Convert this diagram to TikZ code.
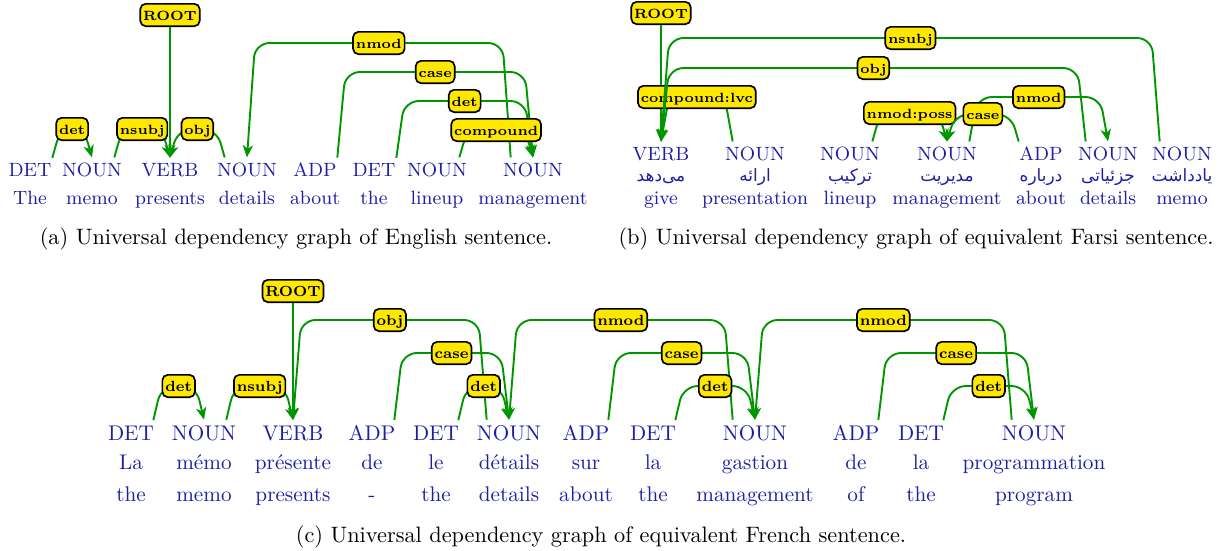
\documentclass[tikz,border=0pt]{standalone}
\usepackage{fontspec}
\newfontfamily\farsifont[Script=Arabic]{DejaVu Sans}
\TeXXeTstate=1
\usetikzlibrary{calc,arrows.meta}
\definecolor{depgreen}{RGB}{0,150,0}
\definecolor{depblue}{RGB}{30,30,165}
\definecolor{labelyellow}{RGB}{255,232,0}
\tikzset{postag/.style={text=depblue, inner sep=0pt, outer sep=2.5pt, font=\fontsize{8.6}{10}\selectfont}}
\tikzset{word/.style={text=depblue, inner sep=0pt, anchor=base, font=\fontsize{8.6}{10}\selectfont}}
\tikzset{deplabel/.style={draw=black, fill=labelyellow, line width=0.75pt, rounded corners=2.4pt,
  inner xsep=1.3pt, inner ysep=0.5pt, text height=0.7em, text depth=0.2em, font=\fontsize{6}{6}\selectfont\bfseries}}
\tikzset{depline/.style={draw=depgreen, line width=0.85pt, rounded corners=6.5pt, -{Stealth[length=5.5pt,width=4.6pt,inset=1.6pt]}}}
\tikzset{caption/.style={inner sep=0pt, font=\fontsize{10}{12}\selectfont}}
% dependency arc: name, from, to, level, label
\newcommand{\depedge}[5]{%
  \draw[depline] let \p0=(#2.north), \p2=(#3.north), \n1={ifthenelse(\x2>\x0,1,-1)},
      \p1=($(\p0)+(\n1*10,0)$), \p3=(0,#4) in
    (\p1) -- (\x1+\n1*3.6pt,\y3) -- (\x2-\n1*3.6pt,\y3) -- (\p2)
    node[deplabel, at={({(\x1+\x2)/2},\y3)}] (#1) {#5};}

\begin{document}
\begin{tikzpicture}[x=0.448pt, y=-0.448pt]
  \useasboundingbox (0,0) rectangle (1218,550);

  % (a) English sentence
  \foreach \x/\t/\w [count=\i] in {30/DET/The, 92/NOUN/memo, 170/VERB/presents, 247/NOUN/details,
      315/ADP/about, 374/DET/the, 437/NOUN/lineup, 533/NOUN/management} {
    \node[postag] (a\i) at (\x,170) {\t};
    \node[word] (wa\i) at (\x,204) {\w};
  }
  \node[deplabel] (rootA) at (170,15) {ROOT};
  \draw[depline] (rootA) -- (a3.north);
  \depedge{detA}{a1}{a2}{129}{det}
  \depedge{nsubjA}{a2}{a3}{129}{nsubj}
  \depedge{objA}{a4}{a3}{129}{obj}
  \depedge{nmodA}{a8}{a4}{43}{nmod}
  \depedge{caseA}{a5}{a8}{72}{case}
  \depedge{detB}{a6}{a8}{101}{det}
  \depedge{compoundA}{a7}{a8}{130}{compound}
  \node[caption] (capA) at (296,239) {(a) Universal dependency graph of English sentence.};

  % (b) Farsi sentence
  \foreach \x/\t/\f/\w [count=\i] in {661/VERB/می‌دهد/give, 755/NOUN/ارائه/presentation,
      850/NOUN/ترکیب/lineup, 947/NOUN/مدیریت/management, 1041/ADP/درباره/about,
      1108/NOUN/جزئیاتی/details, 1182/NOUN/یادداشت/memo} {
    \node[postag] (b\i) at (\x,154) {\t};
    \node[word, font=\fontsize{7.6}{10}\farsifont] (fb\i) at (\x,181) {\beginR\f\endR};
    \node[word] (gb\i) at (\x,204) {\w};
  }
  \node[deplabel] (rootB) at (661,13) {ROOT};
  \draw[depline] (rootB) -- (b1.north);
  \depedge{lvcB}{b2}{b1}{97}{compound:lvc}
  \depedge{objB}{b6}{b1}{68}{obj}
  \depedge{nsubjB}{b7}{b1}{38}{nsubj}
  \depedge{possB}{b3}{b4}{113}{nmod:poss}
  \depedge{nmodB}{b4}{b6}{97}{nmod}
  \depedge{caseB}{b5}{b4}{114}{case}
  \node[caption] (capB) at (916,239) {(b) Universal dependency graph of equivalent Farsi sentence.};

  % (c) French sentence
  \begin{scope}[postag/.append style={font=\fontsize{9.5}{11}\selectfont},
      word/.append style={font=\fontsize{9.5}{11}\selectfont},
      deplabel/.append style={font=\fontsize{6.6}{7}\selectfont\bfseries}]
    \foreach \x/\t/\f/\w [count=\i] in {131/DET/La/the, 204/NOUN/mémo/memo, 293/VERB/présente/presents,
        372/ADP/de/-, 436/DET/le/the, 509/NOUN/détails/details, 586/ADP/sur/about, 653/DET/la/the,
        755/NOUN/gastion/management, 856/ADP/de/of, 921/DET/la/the, 1034/NOUN/programmation/program} {
      \node[postag] (c\i) at (\x,433) {\t};
      \node[word] (fc\i) at (\x,469) {\f};
      \node[word] (gc\i) at (\x,501) {\w};
    }
    \node[deplabel] (rootC) at (293,291) {ROOT};
    \draw[depline] (rootC) -- (c3.north);
    \depedge{detC}{c1}{c2}{386}{det}
    \depedge{nsubjC}{c2}{c3}{386}{nsubj}
    \depedge{objC}{c6}{c3}{320}{obj}
    \depedge{caseC}{c4}{c6}{353}{case}
    \depedge{detD}{c5}{c6}{386}{det}
    \depedge{nmodC}{c9}{c6}{320}{nmod}
    \depedge{caseD}{c7}{c9}{353}{case}
    \depedge{detE}{c8}{c9}{386}{det}
    \depedge{nmodD}{c12}{c9}{320}{nmod}
    \depedge{caseE}{c10}{c12}{353}{case}
    \depedge{detF}{c11}{c12}{386}{det}
  \end{scope}
  \node[caption] (capC) at (601,537) {(c) Universal dependency graph of equivalent French sentence.};
\end{tikzpicture}
\end{document}
